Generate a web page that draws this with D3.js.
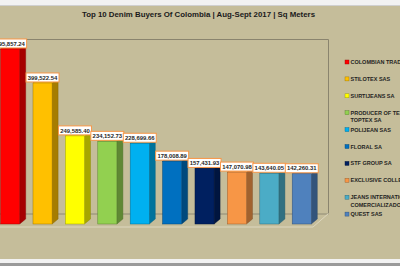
<!DOCTYPE html>
<html>
<head>
<meta charset="utf-8">
<script src="https://cdn.jsdelivr.net/npm/d3@7"></script>
<style>
  body { margin: 0; background: #ffffff; }
  svg { display: block; }
</style>
</head>
<body>
<div class="dataviz"><svg></svg></div>
<script>
var buyers = ["COLOMBIAN TRADING SAS", "STILOTEX SAS", "SURTIJEANS SA", "PRODUCER OF TEXTILES|TOPTEX SA", "POLIJEAN SAS",
    "FLORAL SA", "STF GROUP SA", "EXCLUSIVE COLLECTIONS SAS", "JEANS INTERNATIONAL|COMERCIALIZADORA", "QUEST SAS"];
var values = [495857.24, 399522.54, 249585.40, 234152.73, 228699.66, 178008.89, 157431.93, 147070.98, 143640.05, 142260.31];
var barColors = ["#ff0000", "#ffc000", "#ffff00", "#92d050", "#00b0f0", "#0070c0", "#002060", "#f79646", "#4bacc6", "#4f81bd"];
var titleText = "Top 10 Denim Buyers Of Colombia | Aug-Sept 2017 | Sq Meters";

width = 400;
height = 266;

var bg = "#c5bd9a";
var dx = 6, dy = 5;

var data = buyers.map((b, i) => ({ name: b, valor: values[i], color: barColors[i] }));

var svg = d3.select(".dataviz > svg")
    .attr("width", width)
    .attr("height", height)
    .attr("viewBox", [0, 0, width, height]);

// chart area and white strips
svg.append("rect").attr("x", 0).attr("y", 0).attr("width", width).attr("height", height).attr("fill", "#f2f2f2");
svg.append("rect").attr("x", 0).attr("y", 5).attr("width", width).attr("height", 254).attr("fill", bg);
svg.append("line").attr("x1", 0).attr("x2", width).attr("y1", 5.5).attr("y2", 5.5).attr("stroke", "#d0d0d0");
svg.append("rect").attr("x", 0).attr("y", 263).attr("width", width).attr("height", 3).attr("fill", "#9a9a9a");

x = d3.scaleBand()
    .domain(data.map(d => d.name))
    .range([-5.9, 317.8])
    .paddingInner(0.41)
    .paddingOuter(0.2);

y = d3.scaleLinear()
    .domain([0, 500000])
    .range([224, 47.5]);

// back wall and floor
svg.append("path")
    .attr("d", "M-2,39.5 L328.5,39.5 L328.5,214")
    .attr("fill", "none").attr("stroke", "#8a846e").attr("stroke-width", 1);
svg.append("path")
    .attr("d", "M-2,214 L328.5,214 L313,227 L-2,227")
    .attr("fill", bg).attr("stroke", "none");
svg.append("line").attr("x1", -2).attr("x2", 328.5).attr("y1", 214).attr("y2", 214)
    .attr("stroke", "#8f8a74").attr("stroke-width", 1);
svg.append("path").attr("d", "M-2,227 L313,227 L328.5,213.5")
    .attr("fill", "none").attr("stroke", "#ddd7bf").attr("stroke-width", 1);

var bars = svg.append("g").attr("class", "bars");
var bar = bars.selectAll("g").data(data).join("g");

// side face
bar.append("path")
    .attr("d", d => {
        var x1 = x(d.name) + x.bandwidth(), yt = y(d.valor), yb = y(0);
        return `M${x1},${yt} L${x1 + dx},${yt - dy} L${x1 + dx},${yb - dy} L${x1},${yb} Z`;
    })
    .attr("fill", d => d3.color(d.color).darker(1.2))
    .attr("stroke", d => d3.color(d.color).darker(1.8))
    .attr("stroke-width", 0.4);

// top face
bar.append("path")
    .attr("d", d => {
        var x0 = x(d.name), x1 = x0 + x.bandwidth(), yt = y(d.valor);
        return `M${x0},${yt} L${x0 + dx},${yt - dy} L${x1 + dx},${yt - dy} L${x1},${yt} Z`;
    })
    .attr("fill", d => d3.color(d.color).brighter(0.3))
    .attr("stroke", d => d3.color(d.color).darker(1.5))
    .attr("stroke-width", 0.4);

// front face
bar.append("rect")
    .attr("x", d => x(d.name))
    .attr("y", d => y(d.valor))
    .attr("width", x.bandwidth())
    .attr("height", d => y(0) - y(d.valor))
    .attr("fill", d => d.color)
    .attr("stroke", d => d3.color(d.color).darker(1.3))
    .attr("stroke-width", 0.5);

// data labels
var fmt = d3.format(",.2f");
var lab = svg.append("g").attr("class", "labels").selectAll("g").data(data).join("g")
    .attr("transform", d => `translate(${x(d.name) + x.bandwidth() / 2},${y(d.valor) - 1})`);
lab.append("rect")
    .attr("x", -16.5).attr("y", -9).attr("width", 33).attr("height", 9)
    .attr("fill", "#ffffff").attr("stroke", "#f79646").attr("stroke-width", 1);
lab.append("text")
    .attr("y", -2.4)
    .attr("text-anchor", "middle")
    .attr("font-family", "Liberation Sans, Arial, sans-serif")
    .attr("font-weight", "bold")
    .attr("font-size", 5.9)
    .attr("fill", "#262626")
    .text(d => fmt(d.valor));

// title
svg.append("text")
    .attr("x", 198.5).attr("y", 16.8)
    .attr("text-anchor", "middle")
    .attr("font-family", "Liberation Sans, Arial, sans-serif")
    .attr("font-weight", "bold")
    .attr("font-size", 7.6)
    .attr("fill", "#1a1a1a")
    .attr("textLength", 233)
    .attr("lengthAdjust", "spacingAndGlyphs")
    .text(titleText);

// legend
var legend = svg.append("g").attr("class", "legend").selectAll("g").data(data).join("g")
    .attr("transform", (d, i) => `translate(345,${62 + i * 16.9})`);
legend.append("rect")
    .attr("x", 0).attr("y", -2).attr("width", 4).attr("height", 4)
    .attr("fill", d => d.color)
    .attr("stroke", d => d3.color(d.color).darker(1.5))
    .attr("stroke-width", 0.4);
legend.append("text")
    .attr("font-family", "Liberation Sans, Arial, sans-serif")
    .attr("font-weight", "bold")
    .attr("font-size", 5.5)
    .attr("fill", "#1f1f1f")
    .selectAll("tspan").data(d => d.name.split("|")).join("tspan")
    .attr("x", 5.5)
    .attr("y", (t, j) => 2 + j * 7.6)
    .text(t => t);
</script>
</body>
</html>
